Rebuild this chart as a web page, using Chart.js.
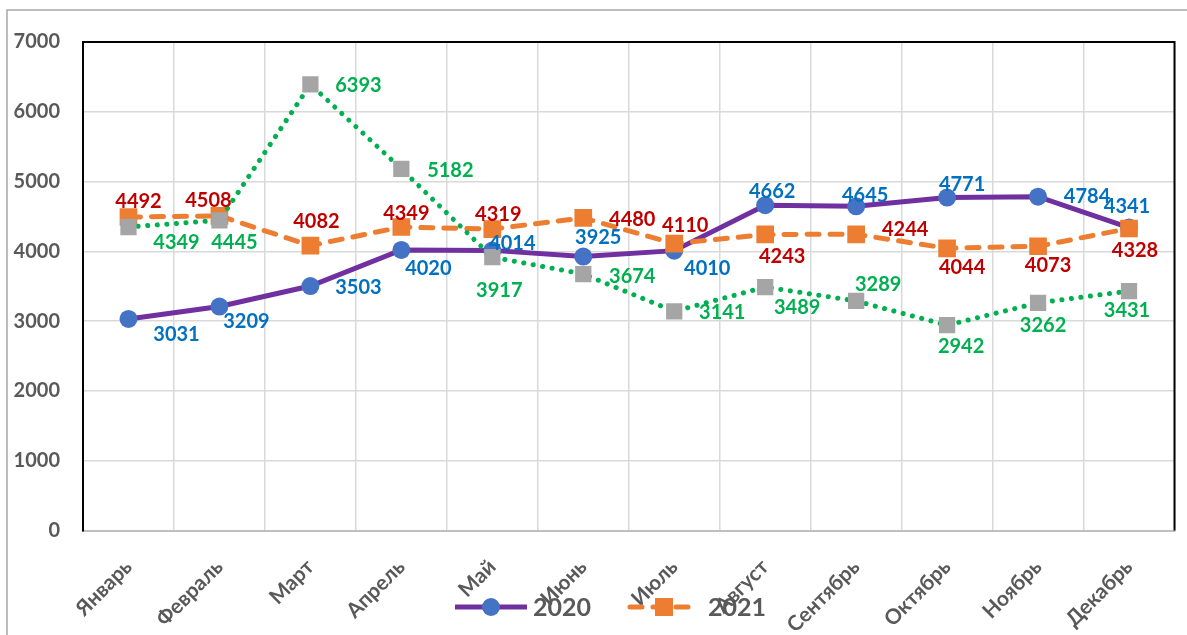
<!DOCTYPE html>
<html><head><meta charset="utf-8">
<script src="https://cdn.jsdelivr.net/npm/chart.js@4.4.1/dist/chart.umd.min.js"></script>
<style>html,body{margin:0;padding:0;background:#fff}#wrap{width:1187px;height:635px;position:relative}</style>
</head><body><div id="wrap"><canvas id="c" width="1187" height="635"></canvas></div>
<script>
// ---- data ----
const months = ['Январь','Февраль','Март','Апрель','Май','Июнь','Июль','Август','Сентябрь','Октябрь','Ноябрь','Декабрь'];
const values2020 = [3031,3209,3503,4020,4014,3925,4010,4662,4645,4771,4784,4341];
const values2021 = [4492,4508,4082,4349,4319,4480,4110,4243,4244,4044,4073,4328];
const valuesOther = [4349,4445,6393,5182,3917,3674,3141,3489,3289,2942,3262,3431];
const yMin = 0, yMax = 7000, yStep = 1000;
const seriesNames = ['2020','2021',''];

// ---- label placement (pixel offsets from the point) ----
const offs2020 = [[48,16],[27,15],[48,2],[27,19],[20,-7],[15,-19],[33,18],[7,-14],[9,-11],[15,-13],[49,0],[-2,-21]];
const offs2021 = [[10,-15],[-11,-15],[6,-24],[5,-13],[6,-15],[49,2],[11,-18],[17,22],[49,-5],[15,19],[10,19],[6,22]];
const offsOther = [[48,16],[15,22],[48,1],[49,2],[7,33],[49,2],[48,1],[32,21],[22,-16],[14,21],[5,23],[-2,19]];

const FONT = 'Lato, "Noto Sans", sans-serif';
const GRAY = '#595959';

const framePlugin = {
  id: 'frame',
  beforeDraw(chart) {
    const ctx = chart.ctx;
    ctx.save();
    ctx.strokeStyle = '#A6A6A6';
    ctx.lineWidth = 1.5;
    ctx.beginPath();
    ctx.moveTo(7, 635); ctx.lineTo(7, 10); ctx.lineTo(1187, 10);
    ctx.stroke();
    ctx.restore();
  },
  beforeDatasetsDraw(chart) {
    const a = chart.chartArea, ctx = chart.ctx;
    ctx.save();
    ctx.strokeStyle = '#000';
    ctx.lineWidth = 2;
    ctx.beginPath();
    ctx.moveTo(a.left, a.bottom); ctx.lineTo(a.left, a.top); ctx.lineTo(a.right, a.top); ctx.lineTo(a.right, a.bottom);
    ctx.stroke();
    ctx.restore();
  }
};

const labelPlugin = {
  id: 'valueLabels',
  afterDatasetsDraw(chart) {
    const ctx = chart.ctx;
    ctx.save();
    ctx.font = 'bold 20px ' + FONT;
    ctx.textAlign = 'center';
    ctx.textBaseline = 'middle';
    [2,1,0].forEach(di => {
      const ds = chart.data.datasets[di];
      const meta = chart.getDatasetMeta(di);
      ctx.fillStyle = ds.labelColor;
      meta.data.forEach((pt, i) => {
        const o = ds.labelOffsets[i];
        ctx.fillText(String(ds.data[i]), pt.x + o[0], pt.y + o[1]);
      });
    });
    ctx.restore();
  }
};

const legendPlugin = {
  id: 'customLegend',
  afterDraw(chart) {
    const ctx = chart.ctx;
    const items = [
      {ds: chart.data.datasets[0], x0: 455, x1: 527, tx: 533},
      {ds: chart.data.datasets[1], x0: 630, x1: 698, tx: 708}
    ];
    const y = 607;
    ctx.save();
    items.forEach(it => {
      const ds = it.ds;
      ctx.strokeStyle = ds.borderColor;
      ctx.lineWidth = ds.borderWidth;
      ctx.lineCap = ds.borderCapStyle || 'butt';
      ctx.setLineDash(ds.borderDash || []);
      ctx.beginPath(); ctx.moveTo(it.x0, y); ctx.lineTo(it.x1, y); ctx.stroke();
      ctx.setLineDash([]);
      const cx = (it.x0 + it.x1) / 2;
      ctx.fillStyle = ds.pointBackgroundColor;
      if (ds.pointStyle === 'circle') {
        ctx.beginPath(); ctx.arc(cx, y, 9, 0, Math.PI * 2); ctx.fill();
      } else {
        ctx.fillRect(cx - 9, y - 9, 18, 18);
      }
      ctx.fillStyle = GRAY;
      ctx.font = 'bold 25px ' + FONT;
      ctx.textAlign = 'left';
      ctx.textBaseline = 'middle';
      ctx.fillText(ds.label, it.tx, y + 1);
    });
    ctx.restore();
  }
};

new Chart(document.getElementById('c'), {
  type: 'line',
  data: {
    labels: months,
    datasets: [
      {
        label: seriesNames[0], data: values2020, order: 2,
        borderColor: '#7030A0', borderWidth: 5, tension: 0,
        pointStyle: 'circle', pointRadius: 9, pointBackgroundColor: '#4472C4', pointBorderWidth: 0,
        labelColor: '#0070C0', labelOffsets: offs2020
      },
      {
        label: seriesNames[1], data: values2021, order: 1,
        borderColor: '#ED7D31', borderWidth: 5, borderDash: [12, 11], borderCapStyle: 'round', tension: 0,
        pointStyle: 'rect', pointRadius: 12.5, pointBackgroundColor: '#ED7D31', pointBorderWidth: 0,
        labelColor: '#C00000', labelOffsets: offs2021
      },
      {
        label: seriesNames[2], data: valuesOther, order: 0,
        borderColor: '#00B050', borderWidth: 5, borderDash: [0.1, 9.5], borderCapStyle: 'round', tension: 0,
        pointStyle: 'rect', pointRadius: 11.5, pointBackgroundColor: '#A5A5A5', pointBorderWidth: 0,
        labelColor: '#00B050', labelOffsets: offsOther
      }
    ]
  },
  options: {
    responsive: false, animation: false, devicePixelRatio: 1,
    layout: { padding: { left: 0, top: 42, right: 6, bottom: 0 } },
    plugins: { legend: { display: false }, tooltip: { enabled: false }, title: { display: false } },
    scales: {
      x: {
        offset: true,
        grid: { offset: true, color: '#D9D9D9', lineWidth: 1.5, drawTicks: false },
        border: { color: '#BFBFBF', width: 2 },
        ticks: { color: GRAY, font: { family: FONT, size: 21, weight: 'bold' }, minRotation: 45, maxRotation: 45, autoSkip: false, padding: 24 },
        afterFit(s) { s.height = 104.5; }
      },
      y: {
        min: yMin, max: yMax,
        grid: { color: '#D9D9D9', lineWidth: 1.5, drawTicks: false },
        border: { color: '#000', width: 2 },
        ticks: { stepSize: yStep, color: GRAY, font: { family: FONT, size: 20, weight: 'bold' }, padding: 23,
                 callback: v => String(v) },
        afterFit(s) { s.width = 83; }
      }
    }
  },
  plugins: [framePlugin, labelPlugin, legendPlugin]
});
</script></body></html>
